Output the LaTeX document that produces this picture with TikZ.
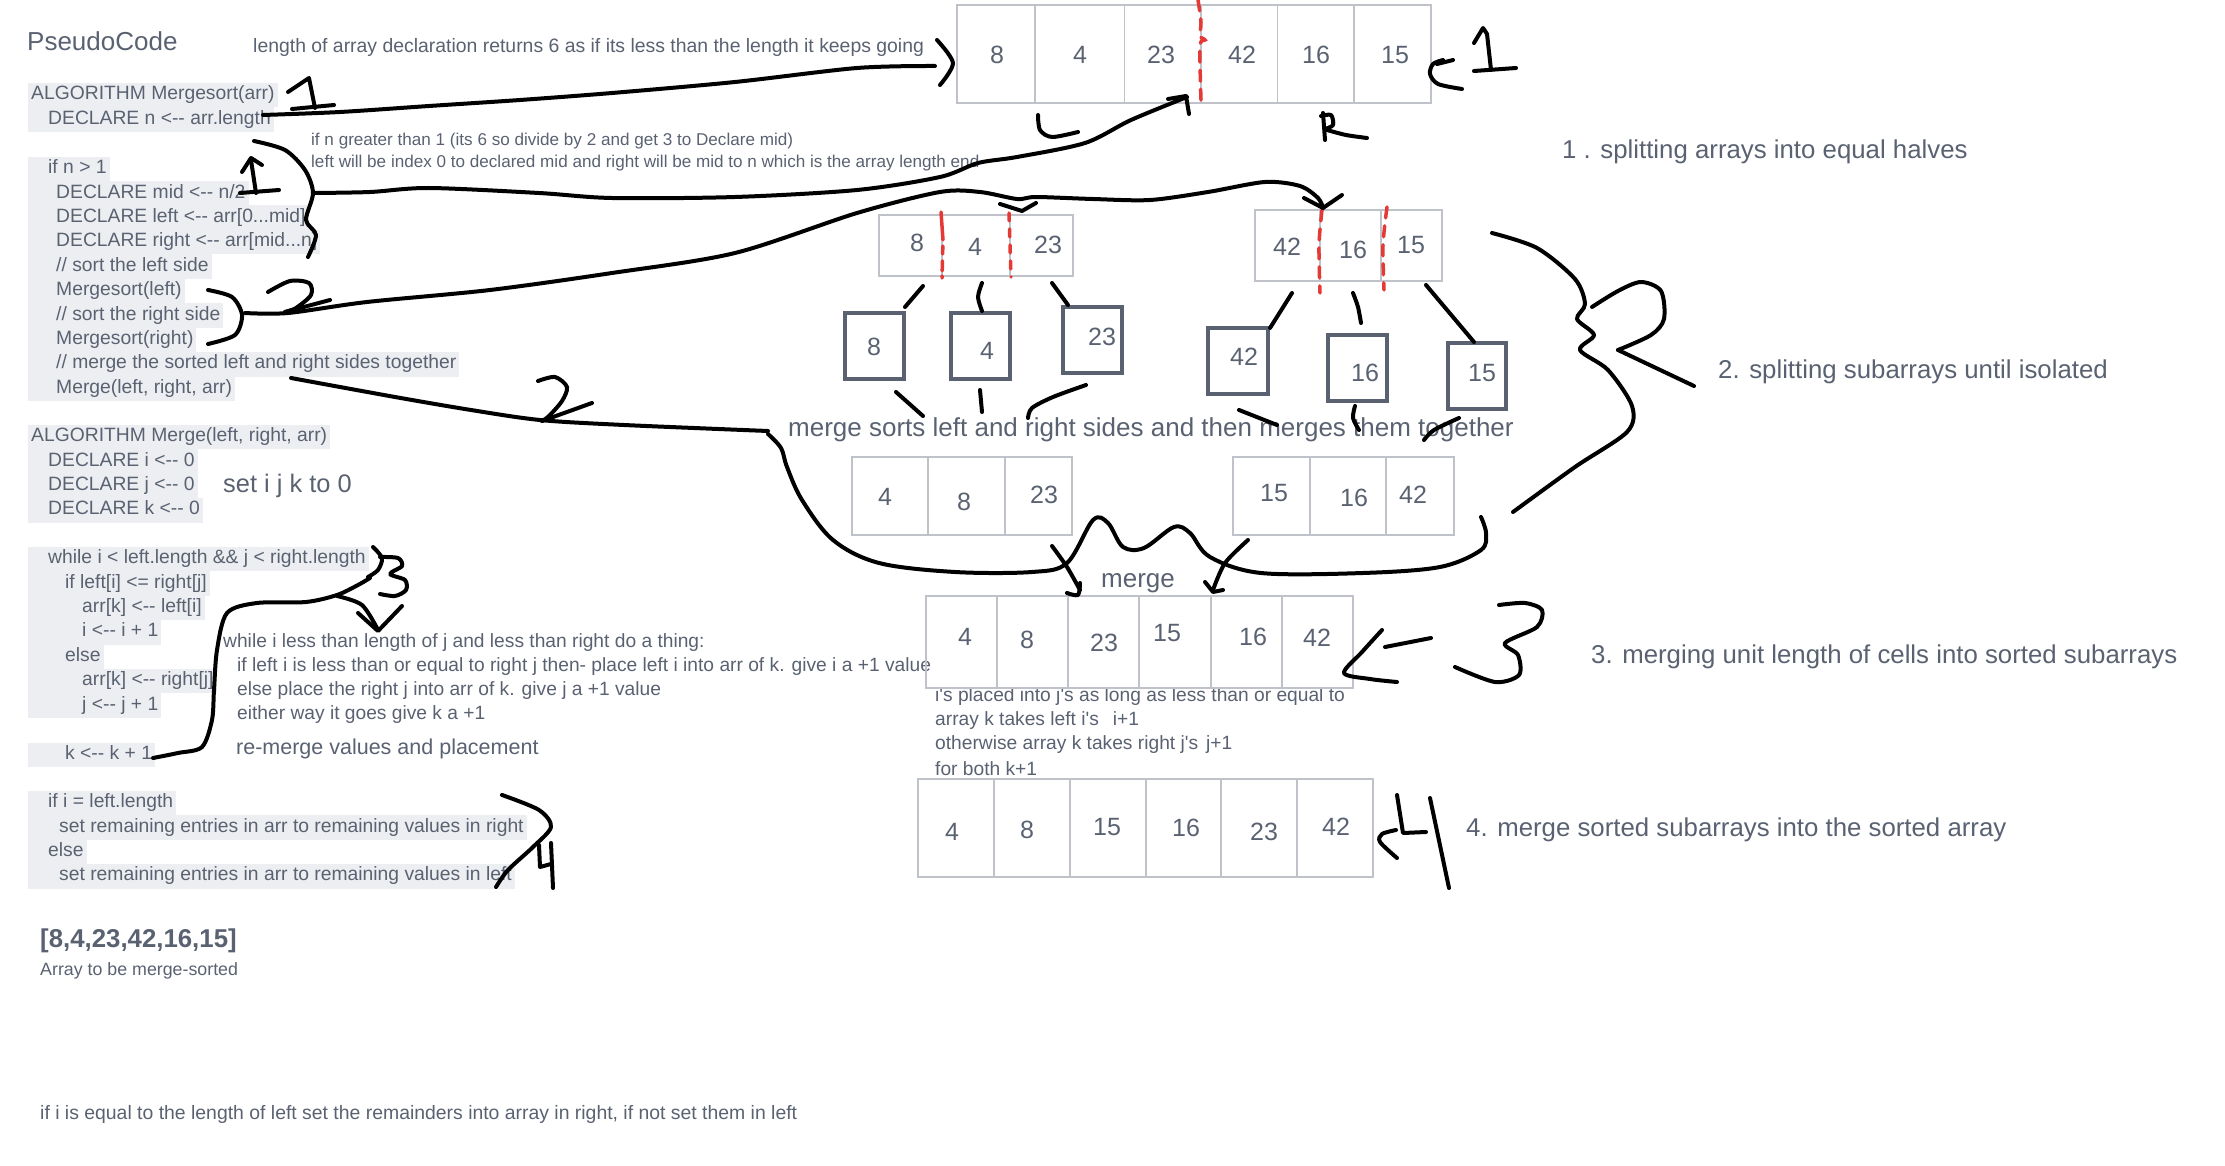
\documentclass[tikz,border=0pt]{standalone}
\usepackage{fontspec}
\newfontfamily\uifont{Liberation Sans}
\definecolor{txt}{HTML}{5A6272}
\definecolor{codebg}{HTML}{ECEEF1}
\definecolor{cellline}{HTML}{BFC3C9}
\definecolor{boxline}{HTML}{5A6272}
\definecolor{redmark}{HTML}{E53935}
\tikzset{
  code/.style={anchor=west, fill=codebg, text=txt, font=\uifont\fontsize{19.3}{22}\selectfont,
    inner xsep=3pt, inner ysep=0pt, minimum height=24.6pt, text height=14pt, text depth=4.5pt},
  note/.style={anchor=west, text=txt, font=\uifont\fontsize{19.2}{22}\selectfont, inner sep=0pt},
  small/.style={anchor=west, text=txt, font=\uifont\fontsize{17.1}{20}\selectfont, inner sep=0pt},
  biglabel/.style={anchor=west, text=txt, font=\uifont\fontsize{25.8}{30}\selectfont, inner sep=0pt},
  num/.style={text=txt, font=\uifont\fontsize{25}{30}\selectfont, inner sep=0pt},
  cellbox/.style={draw=cellline, line width=1.5pt},
  single/.style={draw=boxline, line width=4.5pt},
  ink/.style={black, line width=4pt, line cap=round, line join=round},
  redash/.style={redmark, line width=3.5pt, line cap=round, dash pattern=on 11pt off 8pt},
}
\begin{document}
\begin{tikzpicture}[x=1pt,y=-1pt]
\useasboundingbox (0,0) rectangle (2225,1166);
\fill[white] (0,0) rectangle (2225,1166);

\begin{scope}[yshift=-3pt]
% ---------------- pseudocode ----------------
\node[anchor=west, text=txt, font=\uifont\fontsize{26}{30}\selectfont, inner sep=0pt] (title) at (27,38) {PseudoCode};

\node[code] (c1) at (28,92) {ALGORITHM Mergesort(arr)};
\node[code] (c2) at (28,116.4) {\hspace{17pt}DECLARE n <-- arr.length};
\node[code] (c3) at (28,166) {\hspace{17pt}if n > 1};
\node[code] (c4) at (28,190.4) {\hspace{25pt}DECLARE mid <-- n/2};
\node[code] (c5) at (28,214.8) {\hspace{25pt}DECLARE left <-- arr[0...mid]};
\node[code] (c6) at (28,239.2) {\hspace{25pt}DECLARE right <-- arr[mid...n]};
\node[code] (c7) at (28,263.6) {\hspace{25pt}// sort the left side};
\node[code] (c8) at (28,288) {\hspace{25pt}Mergesort(left)};
\node[code] (c9) at (28,312.4) {\hspace{25pt}// sort the right side};
\node[code] (c10) at (28,336.8) {\hspace{25pt}Mergesort(right)};
\node[code] (c11) at (28,361.2) {\hspace{25pt}// merge the sorted left and right sides together};
\node[code] (c12) at (28,385.6) {\hspace{25pt}Merge(left, right, arr)};

\node[code] (d1) at (28,434) {ALGORITHM Merge(left, right, arr)};
\node[code] (d2) at (28,458.4) {\hspace{17pt}DECLARE i <-- 0};
\node[code] (d3) at (28,482.8) {\hspace{17pt}DECLARE j <-- 0};
\node[code] (d4) at (28,507.2) {\hspace{17pt}DECLARE k <-- 0};

\node[code] (e1) at (28,556) {\hspace{17pt}while i < left.length \&\& j < right.length};
\node[code] (e2) at (28,580.4) {\hspace{34pt}if left[i] <= right[j]};
\node[code] (e3) at (28,604.8) {\hspace{51pt}arr[k] <-- left[i]};
\node[code] (e4) at (28,629.2) {\hspace{51pt}i <-- i + 1};
\node[code] (e5) at (28,653.6) {\hspace{34pt}else};
\node[code] (e6) at (28,678) {\hspace{51pt}arr[k] <-- right[j]};
\node[code] (e7) at (28,702.4) {\hspace{51pt}j <-- j + 1};
\node[code] (e8) at (28,752) {\hspace{34pt}k <-- k + 1};

\node[code] (f1) at (28,800) {\hspace{17pt}if i = left.length};
\node[code] (f2) at (28,824.4) {\hspace{28pt}set remaining entries in arr to remaining values in right};
\node[code] (f3) at (28,848.8) {\hspace{17pt}else};
\node[code] (f4) at (28,873.2) {\hspace{28pt}set remaining entries in arr to remaining values in left};

\node[anchor=west, text=txt, font=\uifont\bfseries\fontsize{25.8}{30}\selectfont, inner sep=0pt] (arrlit) at (40,938) {[8,4,23,42,16,15]};
\node[note, font=\uifont\fontsize{17.8}{21}\selectfont] (arrcap) at (40,968) {Array to be merge-sorted};
\node[note, font=\uifont\fontsize{19.4}{22}\selectfont] (bottomnote) at (40,1111) {if i is equal to the length of left set the remainders into array in right, if not set them in left};

% ---------------- notes ----------------
\node[note, font=\uifont\fontsize{19.4}{22}\selectfont] (n1) at (253,44) {length of array declaration returns 6 as if its less than the length it keeps going};
\node[small] (n2) at (311,138) {if n greater than 1 (its 6 so divide by 2 and get 3 to Declare mid)};
\node[small] (n3) at (311,160) {left will be index 0 to declared mid and right will be mid to n which is the array length end};
\node[anchor=west, text=txt, font=\uifont\fontsize{25.4}{28}\selectfont, inner sep=0pt] (n4) at (223,483) {set i j k to 0};
\node[note] (n5) at (223,640) {while i less than length of j and less than right do a thing:};
\node[note] (n6) at (237,664) {if left i is less than or equal to right j then- place left i into arr of k. give i a +1 value};
\node[note] (n7) at (237,688) {else place the right j into arr of k. give j a +1 value};
\node[note] (n8) at (237,712) {either way it goes give k a +1};
\node[anchor=west, text=txt, font=\uifont\fontsize{21.5}{25}\selectfont, inner sep=0pt] (n9) at (236,746) {re-merge values and placement};
\node[biglabel, font=\uifont\fontsize{26}{30}\selectfont] (n10) at (788,427) {merge sorts left and right sides and then merges them together};
\node[biglabel, font=\uifont\fontsize{26}{30}\selectfont] (n11) at (1101,580) {merge};
\node[note] (n12) at (935,694) {i's placed into j's as long as less than or equal to};
\node[note] (n13) at (935,718) {array k takes left i's\hspace{14pt}i+1};
\node[note] (n14) at (935,742) {otherwise array k takes right j's\hspace{8pt}j+1};
\node[note] (n15) at (935,766) {for both k+1};

\node[biglabel] (l1) at (1562,149) {1 . splitting arrays into equal halves};
\node[biglabel] (l2) at (1718,369) {2. splitting subarrays until isolated};
\node[biglabel] (l3) at (1591,654) {3. merging unit length of cells into sorted subarrays};
\node[biglabel] (l4) at (1466,827) {4. merge sorted subarrays into the sorted array};
\end{scope}

% ---------------- arrays ----------------
% top array
\draw[cellbox] (957,5) rectangle (1431,103);
\foreach \xx in {1035,1124.5,1201,1277.5,1354} \draw[cellbox] (\xx,5) -- (\xx,103);
\node[num] (a1) at (997,55) {8};
\node[num] (a2) at (1080,55) {4};
\node[num] (a3) at (1161,55) {23};
\node[num] (a4) at (1242,55) {42};
\node[num] (a5) at (1316,55) {16};
\node[num] (a6) at (1395,55) {15};

% first split
\draw[cellbox] (879,215) rectangle (1073,276);
\foreach \xx in {942,1010} \draw[cellbox] (\xx,215) -- (\xx,276);
\node[num] (b1) at (917,243) {8};
\node[num] (b2) at (975,247) {4};
\node[num] (b3) at (1048,245) {23};
\draw[cellbox] (1255,210) rectangle (1442,281);
\foreach \xx in {1320,1381} \draw[cellbox] (\xx,210) -- (\xx,281);
\node[num] (b4) at (1287,247) {42};
\node[num] (b5) at (1353,250) {16};
\node[num] (b6) at (1411,245) {15};

% singles
\draw[single] (845,313) rectangle (904,379);
\node[num] (s1) at (874,347) {8};
\draw[single] (951,313) rectangle (1010,379);
\node[num] (s2) at (987,351) {4};
\draw[single] (1063,307) rectangle (1122,373);
\node[num] (s3) at (1102,337) {23};
\draw[single] (1208,328) rectangle (1268,394);
\node[num] (s4) at (1244,357) {42};
\draw[single] (1328,335) rectangle (1387,401);
\node[num] (s5) at (1365,373) {16};
\draw[single] (1448,343) rectangle (1506,409);
\node[num] (s6) at (1482,373) {15};

% merged pairs
\draw[cellbox] (852,457) rectangle (1072,535);
\foreach \xx in {928,1005} \draw[cellbox] (\xx,457) -- (\xx,535);
\node[num] (m1) at (885,497) {4};
\node[num] (m2) at (964,502) {8};
\node[num] (m3) at (1044,495) {23};
\draw[cellbox] (1233,457) rectangle (1454,535);
\foreach \xx in {1310,1386} \draw[cellbox] (\xx,457) -- (\xx,535);
\node[num] (m4) at (1274,493) {15};
\node[num] (m5) at (1354,498) {16};
\node[num] (m6) at (1413,495) {42};

% merge row
\draw[cellbox] (926,596) rectangle (1353,688);
\foreach \xx in {997,1068,1139,1211,1282} \draw[cellbox] (\xx,596) -- (\xx,688);
\node[num] (r1) at (965,637) {4};
\node[num] (r2) at (1027,640) {8};
\node[num] (r3) at (1104,643) {23};
\node[num] (r4) at (1167,633) {15};
\node[num] (r5) at (1253,637) {16};
\node[num] (r6) at (1317,638) {42};

% final
\draw[cellbox] (918,779) rectangle (1373,877);
\foreach \xx in {994,1070,1146,1221,1297} \draw[cellbox] (\xx,779) -- (\xx,877);
\node[num] (z1) at (952,832) {4};
\node[num] (z2) at (1027,830) {8};
\node[num] (z3) at (1107,827) {15};
\node[num] (z4) at (1186,828) {16};
\node[num] (z5) at (1264,832) {23};
\node[num] (z6) at (1336,827) {42};

% ---------------- red split marks ----------------
\draw[redash] plot[smooth] coordinates {(1198,0) (1201,22) (1200,36) (1205,40) (1200,46) (1201,100)};
\draw[redash, dash pattern=on 28pt off 6pt on 8pt off 7pt on 10pt off 5pt] (941,212) -- (943,240) -- (942,278);
\draw[redash, dash pattern=on 8pt off 8pt] (1009,213) -- (1011,277);
\draw[redash] plot[smooth] coordinates {(1322,210) (1319,245) (1320,293)};
\draw[redash] plot[smooth] coordinates {(1387,207) (1383,245) (1384,290)};

% ---------------- hand-drawn ink ----------------
% curve 1 -> top array
\draw[ink] plot[smooth] coordinates {(263,115) (340,112) (429,106) (520,100) (612,93) (735,82) (857,68) (935,66)};
\draw[ink] plot[smooth] coordinates {(937,40) (953,63) (940,85)};
% handwritten 1 (top)
\draw[ink] (288,92) -- (309,78) -- (315,108);
\draw[ink] (292,109) -- (334,105);
% brace with 1
\draw[ink] plot[smooth] coordinates {(254,141) (285,150) (305,170) (313,193) (306,220) (316,235) (308,257)};
\draw[ink] (242,172) -- (251,158) -- (262,165);
\draw[ink] (251,160) -- (256,193);
\draw[ink] (240,193) -- (279,190);
% line b -> split mark
\draw[ink] plot[smooth] coordinates {(313,193) (370,192) (429,188) (539,193) (612,198) (735,197) (857,190) (940,177) (978,163) (1017,157) (1085,143) (1131,120) (1187,97)};
\draw[ink] (1168,99) -- (1186,96) -- (1189,114);
% bracket 2 and line B -> subarrays
\draw[ink] plot[smooth] coordinates {(208,290) (232,297) (242,315) (235,335) (208,344)};
\draw[ink] plot[smooth] coordinates {(268,292) (290,281) (309,283) (311,295) (296,308) (285,312)};
\draw[ink] (285,312) -- (330,300);
\draw[ink] plot[smooth] coordinates {(245,313) (288,313) (367,302) (490,290) (612,273) (735,253) (857,213) (940,192) (980,192) (1017,199) (1036,197) (1093,199) (1150,200) (1208,192) (1265,182) (1300,186) (1318,198) (1323,208)};
\draw[ink] (1000,204) -- (1022,211) -- (1036,203);
\draw[ink] (1304,198) -- (1323,208) -- (1342,195);
% line C (Merge) with 2
\draw[ink] plot[smooth] coordinates {(291,378) (395,397) (471,410) (540,420) (624,425) (768,431)};
\draw[ink] plot[smooth] coordinates {(538,381) (555,377) (567,387) (562,401) (549,416) (542,421)};
\draw[ink] (542,421) -- (592,403);
% big brace under merged pairs
\draw[ink] plot[smooth, tension=0.55] coordinates {(768,434) (781,448) (787,467) (802,500) (833,540) (879,563) (955,572) (1032,572) (1067,563) (1093,520) (1108,523) (1123,547) (1144,548) (1174,527) (1190,533) (1210,557) (1261,573) (1363,573) (1440,567) (1481,550) (1486,533) (1481,517)};
% merge arrows
\draw[ink] plot[smooth] coordinates {(1052,546) (1067,567) (1080,590)};
\draw[ink] plot[smooth] coordinates {(1080,583) (1078,595) (1067,593)};
\draw[ink] plot[smooth] coordinates {(1248,540) (1225,563) (1213,590)};
\draw[ink] (1205,582) -- (1213,592) -- (1223,590);
% ticks split -> singles
\draw[ink] (923,286) -- (905,307);
\draw[ink] plot[smooth] coordinates {(982,283) (978,297) (982,311)};
\draw[ink] (1052,283) -- (1068,305);
\draw[ink] (1292,293) -- (1270,328);
\draw[ink] plot[smooth] coordinates {(1353,293) (1358,307) (1361,323)};
\draw[ink] (1426,285) -- (1474,342);
% ticks singles -> merge text
\draw[ink] (896,392) -- (923,416);
\draw[ink] (980,390) -- (982,412);
\draw[ink] plot[smooth] coordinates {(1086,385) (1053,397) (1032,408) (1028,418)};
\draw[ink] (1239,410) -- (1277,425);
\draw[ink] plot[smooth] coordinates {(1355,406) (1353,418) (1359,430)};
\draw[ink] plot[smooth] coordinates {(1459,418) (1434,430) (1424,440)};
% L and R
\draw[ink] plot[smooth] coordinates {(1038,115) (1040,130) (1052,137) (1078,132)};
\draw[ink] (1323,113) -- (1325,140);
\draw[ink] plot[smooth] coordinates {(1321,116) (1331,115) (1333,125) (1325,129)};
\draw[ink] plot[smooth] coordinates {(1327,130) (1346,135) (1367,138)};
% right 1 with arrow
\draw[ink] plot[smooth] coordinates {(1443,60) (1433,64) (1430,74) (1438,84) (1462,89)};
\draw[ink] (1437,64) -- (1453,60);
\draw[ink] (1474,43) -- (1483,28) -- (1487,34) -- (1491,70);
\draw[ink] (1474,71) -- (1516,68);
% big right 2
\draw[ink] plot[smooth] coordinates {(1492,233) (1537,248) (1575,279) (1585,304) (1577,319) (1594,335) (1580,350) (1608,370) (1632,406) (1627,432) (1575,467) (1513,512)};
\draw[ink] plot[smooth] coordinates {(1592,307) (1618,291) (1641,282) (1661,291) (1664,319) (1651,335) (1618,350)};
\draw[ink] (1618,350) -- (1694,386);
% 3 next to merge row
\draw[ink] plot[smooth] coordinates {(1382,630) (1362,652) (1344,673) (1370,679) (1397,682)};
\draw[ink] (1385,647) -- (1431,638);
\draw[ink] plot[smooth] coordinates {(1499,605) (1525,603) (1542,610) (1537,627) (1505,643) (1518,655) (1519,675) (1495,682) (1455,667)};
% 4 next to final row
\draw[ink] plot[smooth] coordinates {(1397,858) (1380,842) (1382,834) (1396,830)};
\draw[ink] (1397,795) -- (1403,833) -- (1426,832);
\draw[ink] (1430,798) -- (1449,888);
% code bracket 3 and arrows
\draw[ink] plot[smooth] coordinates {(373,547) (382,558) (378,570) (368,577)};
\draw[ink] plot[smooth] coordinates {(380,557) (398,558) (402,566) (390,574) (405,580) (406,590) (395,596) (380,594)};
\draw[ink] plot[smooth] coordinates {(153,758) (178,753) (202,747) (212,720) (214,690) (217,650) (227,613) (257,603) (306,602) (337,595) (358,585) (370,578)};
\draw[ink] plot[smooth] coordinates {(337,596) (362,605) (378,630)};
\draw[ink] (358,613) -- (378,631) -- (402,606);
% code bracket 4
\draw[ink] plot[smooth] coordinates {(502,795) (539,810) (551,827) (533,847) (508,870) (496,887)};
\draw[ink] (539,845) -- (540,867) -- (551,864);
\draw[ink] (551,843) -- (553,888);
\end{tikzpicture}
\end{document}
